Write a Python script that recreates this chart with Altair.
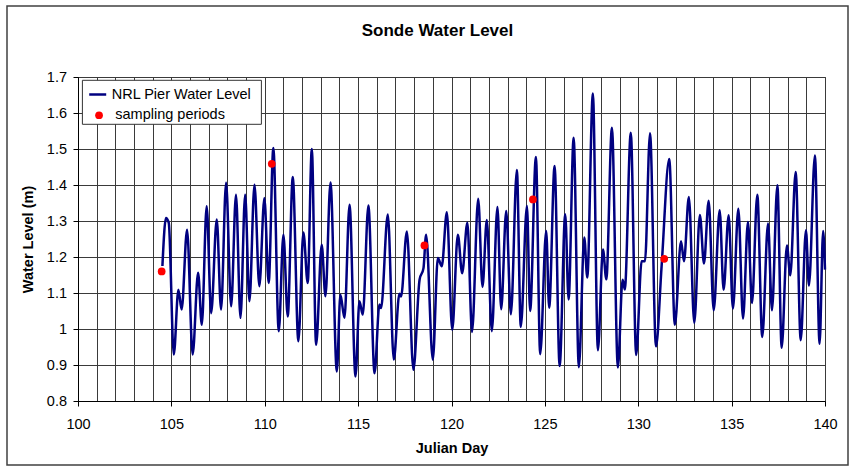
import altair as alt
import pandas as pd

FONT = "Liberation Sans"

# ---- data (turning points of the water-level trace) ----
days = [104.52, 104.71, 104.86, 105.13, 105.375, 105.55, 105.84, 106.14, 106.43, 106.63,
        106.89, 107.13, 107.43, 107.66, 107.93, 108.20, 108.46, 108.70, 108.95, 109.18,
        109.45, 109.71, 109.98, 110.21, 110.46, 110.75, 111.00, 111.23, 111.50, 111.80,
        112.07, 112.30, 112.52, 112.75, 113.05, 113.25, 113.52, 113.86, 114.05, 114.27,
        114.54, 114.86, 115.07, 115.25, 115.55, 115.88, 116.14, 116.23, 116.59, 116.91,
        117.21, 117.30, 117.61, 117.96, 118.29, 118.50, 118.64, 119.00, 119.27, 119.48,
        119.75, 120.04, 120.34, 120.57, 120.85, 121.10, 121.43, 121.66, 121.89, 122.16,
        122.46, 122.66, 122.93, 123.18, 123.50, 123.71, 124.04, 124.21, 124.52, 124.75,
        125.07, 125.23, 125.52, 125.79, 126.09, 126.27, 126.54, 126.82, 127.11, 127.27,
        127.57, 127.84, 128.11, 128.29, 128.59, 128.91, 129.16, 129.28, 129.60, 129.89,
        130.18, 130.36, 130.63, 130.95, 131.25, 131.66, 131.96, 132.29, 132.45, 132.71,
        133.00, 133.30, 133.52, 133.77, 134.04, 134.36, 134.57, 134.84, 135.07, 135.36,
        135.61, 135.875, 136.09, 136.375, 136.64, 136.95, 137.16, 137.45, 137.68, 137.96,
        138.14, 138.43, 138.70, 138.98, 139.14, 139.46, 139.71, 139.90, 140.00]
levels = [1.175, 1.308, 1.295, 0.929, 1.109, 1.054, 1.276, 0.929, 1.156, 1.012,
          1.341, 1.044, 1.304, 1.054, 1.406, 1.063, 1.373, 1.031, 1.373, 1.077,
          1.401, 1.119, 1.364, 1.128, 1.503, 0.994, 1.262, 1.035, 1.422, 0.966,
          1.268, 1.128, 1.500, 0.956, 1.234, 1.091, 1.407, 0.882, 1.095, 1.031,
          1.345, 0.868, 1.077, 1.040, 1.343, 0.877, 1.068, 1.058, 1.318, 0.915,
          1.098, 1.090, 1.271, 0.887, 1.137, 1.169, 1.262, 0.915, 1.197, 1.174,
          1.324, 0.998, 1.262, 1.155, 1.295, 0.992, 1.362, 1.117, 1.303, 0.994,
          1.339, 1.055, 1.328, 1.041, 1.442, 1.006, 1.342, 1.050, 1.478, 0.930,
          1.272, 1.059, 1.453, 0.897, 1.319, 1.082, 1.531, 0.894, 1.254, 1.143,
          1.654, 0.941, 1.221, 1.138, 1.559, 0.893, 1.137, 1.110, 1.545, 0.928,
          1.188, 1.188, 1.544, 0.952, 1.174, 1.472, 1.012, 1.244, 1.188, 1.367,
          1.017, 1.317, 1.182, 1.356, 1.052, 1.330, 1.109, 1.316, 1.057, 1.334,
          1.029, 1.297, 1.072, 1.373, 0.978, 1.293, 1.052, 1.399, 0.948, 1.232,
          1.149, 1.436, 0.969, 1.274, 1.121, 1.482, 0.959, 1.272, 1.165]

sample_days = [104.48, 110.375, 118.55, 124.36, 131.39]
sample_levels = [1.160, 1.459, 1.232, 1.360, 1.195]

series_names = ["NRL Pier Water Level", "sampling periods"]
series_colors = ["#000080", "#FF0000"]

x_ticks = list(range(100, 141))
y_ticks = [0.8, 0.9, 1.0, 1.1, 1.2, 1.3, 1.4, 1.5, 1.6, 1.7]

line_df = pd.DataFrame({"day": days, "level": levels, "series": series_names[0]})
pts_df = pd.DataFrame({"day": sample_days, "level": sample_levels, "series": series_names[1]})

x_scale = alt.Scale(domain=[100, 140], nice=False, zero=False)
y_scale = alt.Scale(domain=[0.8, 1.7], nice=False, zero=False)

x_axis = alt.Axis(
    title="Julian Day", values=x_ticks, tickCount=100,
    labelExpr="datum.value % 5 === 0 ? format(datum.value, 'd') : ''",
    tickOpacity={"condition": {"test": "datum.value % 5 === 0", "value": 1}, "value": 0},
    labelOverlap=False, labelFlush=False, tickSize=5, labelPadding=11,
    titlePadding=11, grid=True,
)
y_axis = alt.Axis(
    title="Water Level (m)", values=y_ticks, tickCount=50,
    labelExpr="format(datum.value, '~g')",
    labelOverlap=False, labelFlush=False, tickSize=5, labelPadding=6.5,
    titlePadding=11, grid=True,
)

common_legend = dict(title=None, orient="none", direction="vertical", padding=0,
                     labelFont=FONT, labelFontSize=14.5, labelColor="black")
line_legend = alt.Legend(legendX=9.7, legendY=7.5, symbolType="stroke", symbolSize=289,
                         symbolStrokeWidth=2.5, labelOffset=4, **common_legend)
pts_legend = alt.Legend(legendX=13.8, legendY=31, symbolType="circle", symbolSize=60,
                        symbolStrokeWidth=0, symbolOpacity=1, labelOffset=9, **common_legend)

frame = alt.Chart(pd.DataFrame({"frame": [0]})).mark_rect(
    fillOpacity=0, stroke="#404040", strokeWidth=1.5
).encode(x=alt.value(-71), x2=alt.value(770), y=alt.value(-71), y2=alt.value(388))

legend_box = alt.Chart(pd.DataFrame({"box": [0]})).mark_rect(
    fill="white", stroke="#333333", strokeWidth=1
).encode(x=alt.value(4.4), x2=alt.value(183.4), y=alt.value(3.3), y2=alt.value(47.3))

line = alt.Chart(line_df).mark_line(strokeWidth=2.5, interpolate="monotone").encode(
    x=alt.X("day:Q", scale=x_scale, axis=x_axis),
    y=alt.Y("level:Q", scale=y_scale, axis=y_axis),
    color=alt.Color("series:N",
                    scale=alt.Scale(domain=[series_names[0]], range=[series_colors[0]]),
                    legend=line_legend),
)

points = alt.Chart(pts_df).mark_circle(size=60, opacity=1).encode(
    x=alt.X("day:Q", scale=x_scale),
    y=alt.Y("level:Q", scale=y_scale),
    fill=alt.Fill("series:N",
                  scale=alt.Scale(domain=[series_names[1]], range=[series_colors[1]]),
                  legend=pts_legend),
)

chart = alt.layer(frame, legend_box, line, points).properties(
    width=747, height=324,
    title=alt.TitleParams("Sonde Water Level", font=FONT, fontSize=17, fontWeight="bold",
                          anchor="middle", frame="group", offset=-35, dx=-14, color="black"),
    autosize=alt.AutoSizeParams(type="none"),
    padding={"left": 78, "top": 77, "right": 32, "bottom": 67},
    background="white",
).resolve_scale(
    color="independent", fill="independent"
).configure_view(
    stroke="#333333", strokeWidth=1
).configure_axis(
    labelFont=FONT, labelFontSize=14.5, labelColor="black",
    titleFont=FONT, titleFontSize=14.5, titleFontWeight="bold", titleColor="black",
    domainColor="black", tickColor="black", gridColor="#3a3a3a", gridWidth=1, gridOpacity=1,
)

chart.save("out.html", embed_options={"renderer": "svg", "actions": False})
